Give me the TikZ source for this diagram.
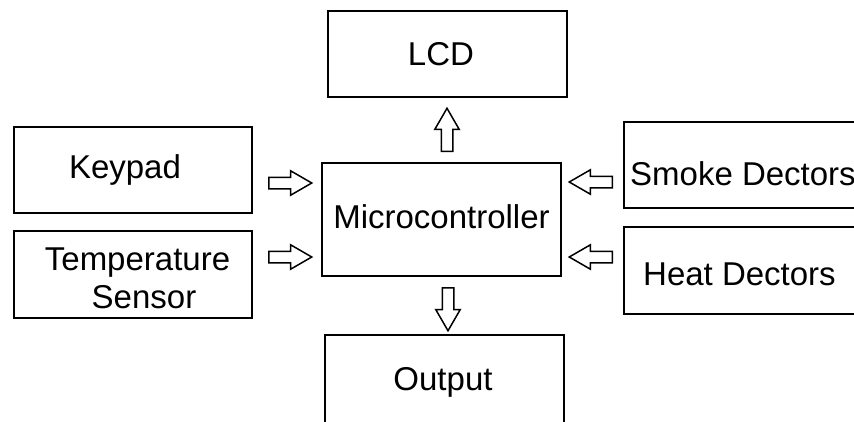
\documentclass[tikz,border=0pt]{standalone}
\usepackage{fontspec}
\setmainfont{Liberation Sans}
\usetikzlibrary{shapes.arrows}
\begin{document}
\begin{tikzpicture}[x=1pt,y=-1pt,
  box/.style={draw, line width=1.5pt, rectangle, inner sep=0pt},
  lbl/.style={inner sep=0pt, font=\fontsize{33}{38}\selectfont, anchor=base},
  barrow/.style={single arrow, draw, line width=1.5pt, inner sep=0pt, inner ysep=5pt,
    minimum height=43pt, single arrow head extend=6.5pt, single arrow tip angle=60, anchor=tail},
  varrow/.style={barrow, inner ysep=0pt, inner xsep=5pt}]
\useasboundingbox (0,0) rectangle (854,421);
\clip (0,0) rectangle (854,421);
% boxes
\node[box, minimum width=239pt, minimum height=86pt] (lcd) at (447.5,54) {};
\node[box, minimum width=238pt, minimum height=86pt] (keypad) at (133,170) {};
\node[box, minimum width=238pt, minimum height=87pt] (temp) at (133,274.5) {};
\node[box, minimum width=239pt, minimum height=113pt] (micro) at (441.5,219.5) {};
\node[box, minimum width=246pt, minimum height=86pt] (smoke) at (747,165) {};
\node[box, minimum width=246pt, minimum height=87pt] (heat) at (747,270.5) {};
\node[box, minimum width=239pt, minimum height=89pt] (output) at (444.5,379.5) {};
% labels
\node[lbl] (lcdt) at (441,65) {LCD};
\node[lbl] (keypadt) at (125,178) {Keypad};
\node[lbl] (tempt1) at (137.5,270) {Temperature};
\node[lbl] (tempt2) at (144,308) {Sensor};
\node[lbl] (microt) at (441.5,228) {Microcontroller};
\node[lbl, anchor=base west] (smoket) at (630,185) {Smoke Dectors};
\node[lbl, anchor=base west] (heatt) at (643,285) {Heat Dectors};
\node[lbl] (outputt) at (443,390) {Output};
% block arrows
\node[barrow] (a1) at (268,183) {};
\node[barrow] (a2) at (268,257) {};
\node[barrow, shape border rotate=180] (a3) at (613,182) {};
\node[barrow, shape border rotate=180] (a4) at (613,257) {};
\node[varrow, shape border rotate=90] (a5) at (447,152) {};
\node[varrow, shape border rotate=270] (a6) at (448,287) {};
\end{tikzpicture}
\end{document}
